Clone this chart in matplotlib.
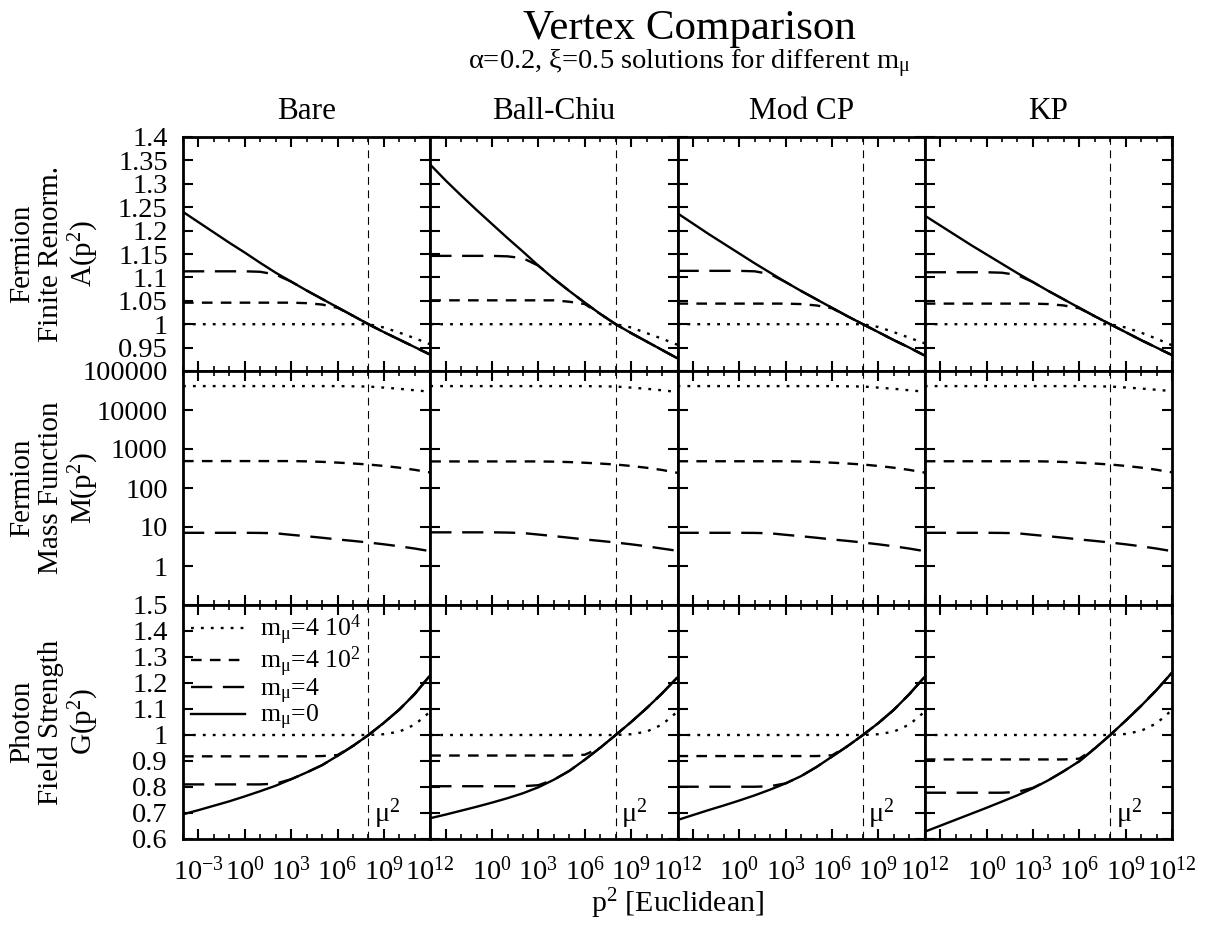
import matplotlib.pyplot as plt
import numpy as np
from matplotlib.ticker import FixedLocator, LogLocator, NullFormatter, FuncFormatter


LOGP = [-4, -3, -2, -1, 0, 1, 2, 3, 4, 5, 6, 7, 8, 9, 10, 11, 12]

VERTICES = ["Bare", "Ball-Chiu", "Mod CP", "KP"]
MU2 = 1e8

# ---- Fermion finite renormalisation A(p^2) ----
A_m4e4 = {
    "Bare":      [1.000, 1.000, 1.000, 1.000, 1.000, 1.000, 1.000, 1.000, 1.000, 1.000, 1.000, 1.000, 1.000, 0.993, 0.982, 0.970, 0.957],
    "Ball-Chiu": [1.000, 1.000, 1.000, 1.000, 1.000, 1.000, 1.000, 1.000, 1.000, 1.000, 1.000, 1.000, 1.000, 0.993, 0.981, 0.969, 0.956],
    "Mod CP":    [1.000, 1.000, 1.000, 1.000, 1.000, 1.000, 1.000, 1.000, 1.000, 1.000, 1.000, 1.000, 1.000, 0.994, 0.983, 0.971, 0.959],
    "KP":        [1.000, 1.000, 1.000, 1.000, 1.000, 1.000, 1.000, 1.000, 1.000, 1.000, 1.000, 1.000, 1.000, 0.993, 0.982, 0.969, 0.955],
}
A_m4e2 = {
    "Bare":      [1.046, 1.046, 1.046, 1.046, 1.046, 1.046, 1.046, 1.046, 1.045, 1.042, 1.035, 1.018, 1.000, 0.983, 0.967, 0.951, 0.935],
    "Ball-Chiu": [1.051, 1.051, 1.051, 1.051, 1.051, 1.051, 1.051, 1.051, 1.051, 1.048, 1.043, 1.022, 1.000, 0.981, 0.963, 0.945, 0.927],
    "Mod CP":    [1.044, 1.044, 1.044, 1.044, 1.044, 1.044, 1.044, 1.044, 1.043, 1.040, 1.034, 1.017, 1.000, 0.983, 0.966, 0.950, 0.933],
    "KP":        [1.044, 1.044, 1.044, 1.044, 1.044, 1.044, 1.044, 1.044, 1.043, 1.040, 1.034, 1.017, 1.000, 0.983, 0.966, 0.950, 0.934],
}
A_m4 = {
    "Bare":      [1.113, 1.113, 1.113, 1.113, 1.113, 1.112, 1.106, 1.091, 1.072, 1.054, 1.036, 1.018, 1.000, 0.983, 0.967, 0.951, 0.935],
    "Ball-Chiu": [1.146, 1.146, 1.146, 1.146, 1.146, 1.145, 1.141, 1.125, 1.097, 1.071, 1.046, 1.022, 1.000, 0.981, 0.963, 0.945, 0.927],
    "Mod CP":    [1.114, 1.114, 1.114, 1.114, 1.114, 1.113, 1.107, 1.090, 1.071, 1.053, 1.035, 1.017, 1.000, 0.983, 0.966, 0.950, 0.933],
    "KP":        [1.111, 1.111, 1.111, 1.111, 1.111, 1.110, 1.105, 1.090, 1.071, 1.053, 1.035, 1.017, 1.000, 0.983, 0.966, 0.950, 0.934],
}
A_m0 = {
    "Bare":      [1.240, 1.218, 1.196, 1.174, 1.153, 1.131, 1.110, 1.091, 1.072, 1.054, 1.036, 1.018, 1.000, 0.983, 0.967, 0.951, 0.935],
    "Ball-Chiu": [1.341, 1.307, 1.275, 1.244, 1.214, 1.184, 1.155, 1.125, 1.097, 1.071, 1.046, 1.022, 1.000, 0.981, 0.963, 0.945, 0.927],
    "Mod CP":    [1.237, 1.215, 1.193, 1.172, 1.151, 1.130, 1.110, 1.090, 1.071, 1.053, 1.035, 1.017, 1.000, 0.983, 0.966, 0.950, 0.933],
    "KP":        [1.232, 1.211, 1.190, 1.169, 1.149, 1.129, 1.109, 1.090, 1.071, 1.053, 1.035, 1.017, 1.000, 0.983, 0.966, 0.950, 0.934],
}

# ---- Fermion mass function M(p^2) ----
M_m4e4 = {
    "Bare":      [41000, 41000, 41000, 41000, 41000, 41000, 41000, 41000, 41000, 41000, 41000, 40500, 40000, 37500, 35000, 32000, 29500],
    "Ball-Chiu": [41000, 41000, 41000, 41000, 41000, 41000, 41000, 41000, 41000, 41000, 41000, 40500, 40000, 37500, 35000, 32000, 29000],
    "Mod CP":    [41000, 41000, 41000, 41000, 41000, 41000, 41000, 41000, 41000, 41000, 41000, 40500, 40000, 37500, 35000, 32000, 29500],
    "KP":        [41000, 41000, 41000, 41000, 41000, 41000, 41000, 41000, 41000, 41000, 41000, 40500, 40000, 37800, 35500, 33000, 30500],
}
M_m4e2 = {
    "Bare":      [490, 490, 490, 490, 490, 490, 490, 490, 482, 468, 448, 425, 400, 368, 332, 292, 250],
    "Ball-Chiu": [480, 480, 480, 480, 480, 480, 480, 480, 474, 462, 444, 423, 400, 367, 330, 290, 245],
    "Mod CP":    [485, 485, 485, 485, 485, 485, 485, 485, 478, 465, 446, 424, 400, 367, 331, 291, 248],
    "KP":        [485, 485, 485, 485, 485, 485, 485, 485, 478, 465, 446, 424, 400, 368, 333, 293, 252],
}
M_m4 = {
    "Bare":      [7.1, 7.1, 7.1, 7.1, 7.1, 7.05, 6.9, 6.3, 5.8, 5.3, 4.8, 4.4, 4.0, 3.6, 3.2, 2.8, 2.4],
    "Ball-Chiu": [7.3, 7.3, 7.3, 7.3, 7.3, 7.2, 7.0, 6.4, 5.85, 5.3, 4.8, 4.4, 4.0, 3.6, 3.2, 2.8, 2.45],
    "Mod CP":    [7.1, 7.1, 7.1, 7.1, 7.1, 7.05, 6.9, 6.3, 5.8, 5.3, 4.8, 4.4, 4.0, 3.6, 3.2, 2.8, 2.4],
    "KP":        [7.1, 7.1, 7.1, 7.1, 7.1, 7.05, 6.9, 6.3, 5.8, 5.3, 4.8, 4.4, 4.0, 3.6, 3.2, 2.8, 2.4],
}

# ---- Photon field strength G(p^2) ----
G_m4e4 = {
    "Bare":      [1.000, 1.000, 1.000, 1.000, 1.000, 1.000, 1.000, 1.000, 1.000, 1.000, 1.000, 1.000, 1.000, 1.003, 1.013, 1.040, 1.090],
    "Ball-Chiu": [1.000, 1.000, 1.000, 1.000, 1.000, 1.000, 1.000, 1.000, 1.000, 1.000, 1.000, 1.000, 1.000, 1.003, 1.013, 1.040, 1.090],
    "Mod CP":    [1.000, 1.000, 1.000, 1.000, 1.000, 1.000, 1.000, 1.000, 1.000, 1.000, 1.000, 1.000, 1.000, 1.003, 1.013, 1.040, 1.090],
    "KP":        [1.000, 1.000, 1.000, 1.000, 1.000, 1.000, 1.000, 1.000, 1.000, 1.000, 1.000, 1.000, 1.000, 1.004, 1.016, 1.045, 1.096],
}
G_m4e2 = {
    "Bare":      [0.918, 0.918, 0.918, 0.918, 0.918, 0.918, 0.918, 0.918, 0.918, 0.919, 0.923, 0.958, 1.000, 1.047, 1.098, 1.158, 1.230],
    "Ball-Chiu": [0.921, 0.921, 0.921, 0.921, 0.921, 0.921, 0.921, 0.921, 0.921, 0.921, 0.924, 0.951, 1.000, 1.050, 1.103, 1.160, 1.222],
    "Mod CP":    [0.919, 0.919, 0.919, 0.919, 0.919, 0.919, 0.919, 0.919, 0.919, 0.919, 0.922, 0.957, 1.000, 1.046, 1.097, 1.157, 1.224],
    "KP":        [0.906, 0.906, 0.906, 0.906, 0.906, 0.906, 0.906, 0.906, 0.906, 0.906, 0.909, 0.948, 1.000, 1.055, 1.112, 1.173, 1.240],
}
G_m4 = {
    "Bare":      [0.810, 0.810, 0.810, 0.810, 0.810, 0.810, 0.813, 0.830, 0.856, 0.884, 0.920, 0.958, 1.000, 1.047, 1.098, 1.158, 1.230],
    "Ball-Chiu": [0.803, 0.803, 0.803, 0.803, 0.803, 0.803, 0.803, 0.807, 0.828, 0.862, 0.905, 0.951, 1.000, 1.050, 1.103, 1.160, 1.222],
    "Mod CP":    [0.801, 0.801, 0.801, 0.801, 0.801, 0.801, 0.803, 0.814, 0.842, 0.877, 0.917, 0.957, 1.000, 1.046, 1.097, 1.157, 1.224],
    "KP":        [0.778, 0.778, 0.778, 0.778, 0.778, 0.778, 0.781, 0.797, 0.826, 0.861, 0.899, 0.948, 1.000, 1.055, 1.112, 1.173, 1.240],
}
G_m0 = {
    "Bare":      [0.695, 0.711, 0.728, 0.745, 0.764, 0.784, 0.805, 0.830, 0.856, 0.884, 0.920, 0.958, 1.000, 1.047, 1.098, 1.158, 1.230],
    "Ball-Chiu": [0.680, 0.694, 0.709, 0.724, 0.740, 0.757, 0.776, 0.799, 0.828, 0.862, 0.905, 0.951, 1.000, 1.050, 1.103, 1.160, 1.222],
    "Mod CP":    [0.673, 0.692, 0.711, 0.729, 0.748, 0.768, 0.790, 0.814, 0.842, 0.877, 0.917, 0.957, 1.000, 1.046, 1.097, 1.157, 1.224],
    "KP":        [0.628, 0.651, 0.674, 0.697, 0.720, 0.744, 0.768, 0.795, 0.826, 0.861, 0.899, 0.948, 1.000, 1.055, 1.112, 1.173, 1.240],
}

LEGEND_LABELS = [r"m$_{\mathrm{μ}}$=4 10$^{4}$", r"m$_{\mathrm{μ}}$=4 10$^{2}$",
                 r"m$_{\mathrm{μ}}$=4", r"m$_{\mathrm{μ}}$=0"]
ROW_LABELS = ["Fermion\nFinite Renorm.\nA(p$^2$)",
              "Fermion\nMass Function\nM(p$^2$)",
              "Photon\nField Strength\nG(p$^2$)"]
A_TICKS = [0.95, 1.0, 1.05, 1.1, 1.15, 1.2, 1.25, 1.3, 1.35, 1.4]
M_TICKS = [1, 10, 100, 1000, 10000, 100000]
G_TICKS = [0.6, 0.7, 0.8, 0.9, 1.0, 1.1, 1.2, 1.3, 1.4, 1.5]
X_TICKS = [1e-3, 1e0, 1e3, 1e6, 1e9, 1e12]
X_TICKLABELS = [r"10$^{-3}$", r"10$^{0}$", r"10$^{3}$", r"10$^{6}$", r"10$^{9}$", r"10$^{12}$"]

STYLES = [dict(dashes=(1.2, 3.0)),   # m = 4 10^4
          dict(dashes=(4.5, 3.5)),   # m = 4 10^2
          dict(dashes=(9, 4.5)),     # m = 4
          dict(linestyle="-")]       # m = 0

FS = 20.5


def style_axis(ax):
    ax.set_xscale("log")
    ax.set_xlim(1e-4, 1e12)
    ax.xaxis.set_major_locator(FixedLocator(X_TICKS))
    ax.xaxis.set_minor_locator(FixedLocator([10.0**k for k in LOGP]))
    ax.xaxis.set_minor_formatter(NullFormatter())
    for sp in ax.spines.values():
        sp.set_linewidth(2.0)
    ax.axvline(MU2, color="black", lw=0.8, dashes=(7, 5))


def finish_ticks(ax):
    ax.tick_params(which="major", direction="in", length=7, width=1.5,
                   top=True, right=True, labelsize=FS)
    ax.tick_params(which="minor", direction="in", length=3.5, width=1.2,
                   top=True, right=True)
    ax.tick_params(axis="y", which="major", pad=11)
    ax.tick_params(axis="x", which="major", pad=13)


def main():
    plt.rcParams.update({
        "font.family": "Liberation Serif",
        "mathtext.fontset": "custom",
        "mathtext.rm": "Liberation Serif",
        "mathtext.it": "Liberation Serif:italic",
        "mathtext.bf": "Liberation Serif:bold",
        "axes.unicode_minus": False,
    })
    W, H = 1209, 925
    fig = plt.figure(figsize=(W / 100, H / 100), dpi=100)
    gs = fig.add_gridspec(3, 4, left=183 / W, right=1172 / W,
                          bottom=1 - 839 / H, top=1 - 137 / H,
                          hspace=0, wspace=0)
    p2 = 10.0 ** np.array(LOGP, dtype=float)
    rows = [(A_m4e4, A_m4e2, A_m4, A_m0), (M_m4e4, M_m4e2, M_m4, None),
            (G_m4e4, G_m4e2, G_m4, G_m0)]

    for r, series in enumerate(rows):
        for c, vertex in enumerate(VERTICES):
            ax = fig.add_subplot(gs[r, c])
            style_axis(ax)
            for data, st, lab in zip(series, STYLES, LEGEND_LABELS):
                if data is None:
                    continue
                ax.plot(p2, data[vertex], color="black", lw=1.7, label=lab, **st)

            if r == 0:
                ax.set_ylim(0.9, 1.4)
                ax.yaxis.set_major_locator(FixedLocator(A_TICKS))
                ax.yaxis.set_major_formatter(FuncFormatter(lambda v, p: f"{v:g}"))
            elif r == 1:
                ax.set_yscale("log")
                ax.set_ylim(0.1, 1e5)
                ax.yaxis.set_major_locator(FixedLocator(M_TICKS))
                ax.yaxis.set_minor_locator(LogLocator(base=10, subs=(2, 4, 6, 8)))
                ax.yaxis.set_minor_formatter(NullFormatter())
                ax.yaxis.set_major_formatter(FuncFormatter(lambda v, p: f"{v:g}"))
            else:
                ax.set_ylim(0.6, 1.5)
                ax.yaxis.set_major_locator(FixedLocator(G_TICKS))
                ax.yaxis.set_major_formatter(FuncFormatter(lambda v, p: f"{v:g}"))
                ax.text(10**8.35, 0.665, r"μ$^{2}$", fontsize=FS, ha="left", va="baseline")

            finish_ticks(ax)
            if c != 0:
                ax.tick_params(axis="y", which="both", labelleft=False)
            if r != 2:
                ax.tick_params(axis="x", which="both", labelbottom=False)
            else:
                labels = list(X_TICKLABELS)
                if c != 0:
                    labels[0] = ""
                ax.set_xticklabels(labels, fontsize=FS)

            if r == 2 and c == 0:
                ax.legend(loc="upper left", frameon=False, fontsize=18.5,
                          handlelength=2.1, handletextpad=0.6,
                          labelspacing=-0.1, borderaxespad=0.1, borderpad=0.2)

    # column titles
    for c, vertex in enumerate(VERTICES):
        xc = (183 + (989 / 4) * (c + 0.5)) / W
        fig.text(xc, 1 - 119 / H, vertex, fontsize=22.5, ha="center", va="baseline")

    # row labels
    for r, lab in enumerate(ROW_LABELS):
        yc = 1 - (137 + 234 * (r + 0.5)) / H
        fig.text(55 / W, yc, lab, fontsize=21, rotation=90, ha="center",
                 va="center", multialignment="center", linespacing=1.12)

    fig.text(689 / W, 1 - 39 / H, "Vertex Comparison", fontsize=31,
             ha="center", va="baseline")
    fig.text(689 / W, 1 - 69 / H,
             r"α=0.2, ξ=0.5 solutions for different m$_{\mathrm{μ}}$",
             fontsize=20.5, ha="center", va="baseline")
    fig.text(677 / W, 1 - 912 / H, r"p$^{2}$ [Euclidean]", fontsize=21.5,
             ha="center", va="baseline")

    fig.savefig("out.png", dpi=100)
    plt.close(fig)


if __name__ == "__main__":
    main()
